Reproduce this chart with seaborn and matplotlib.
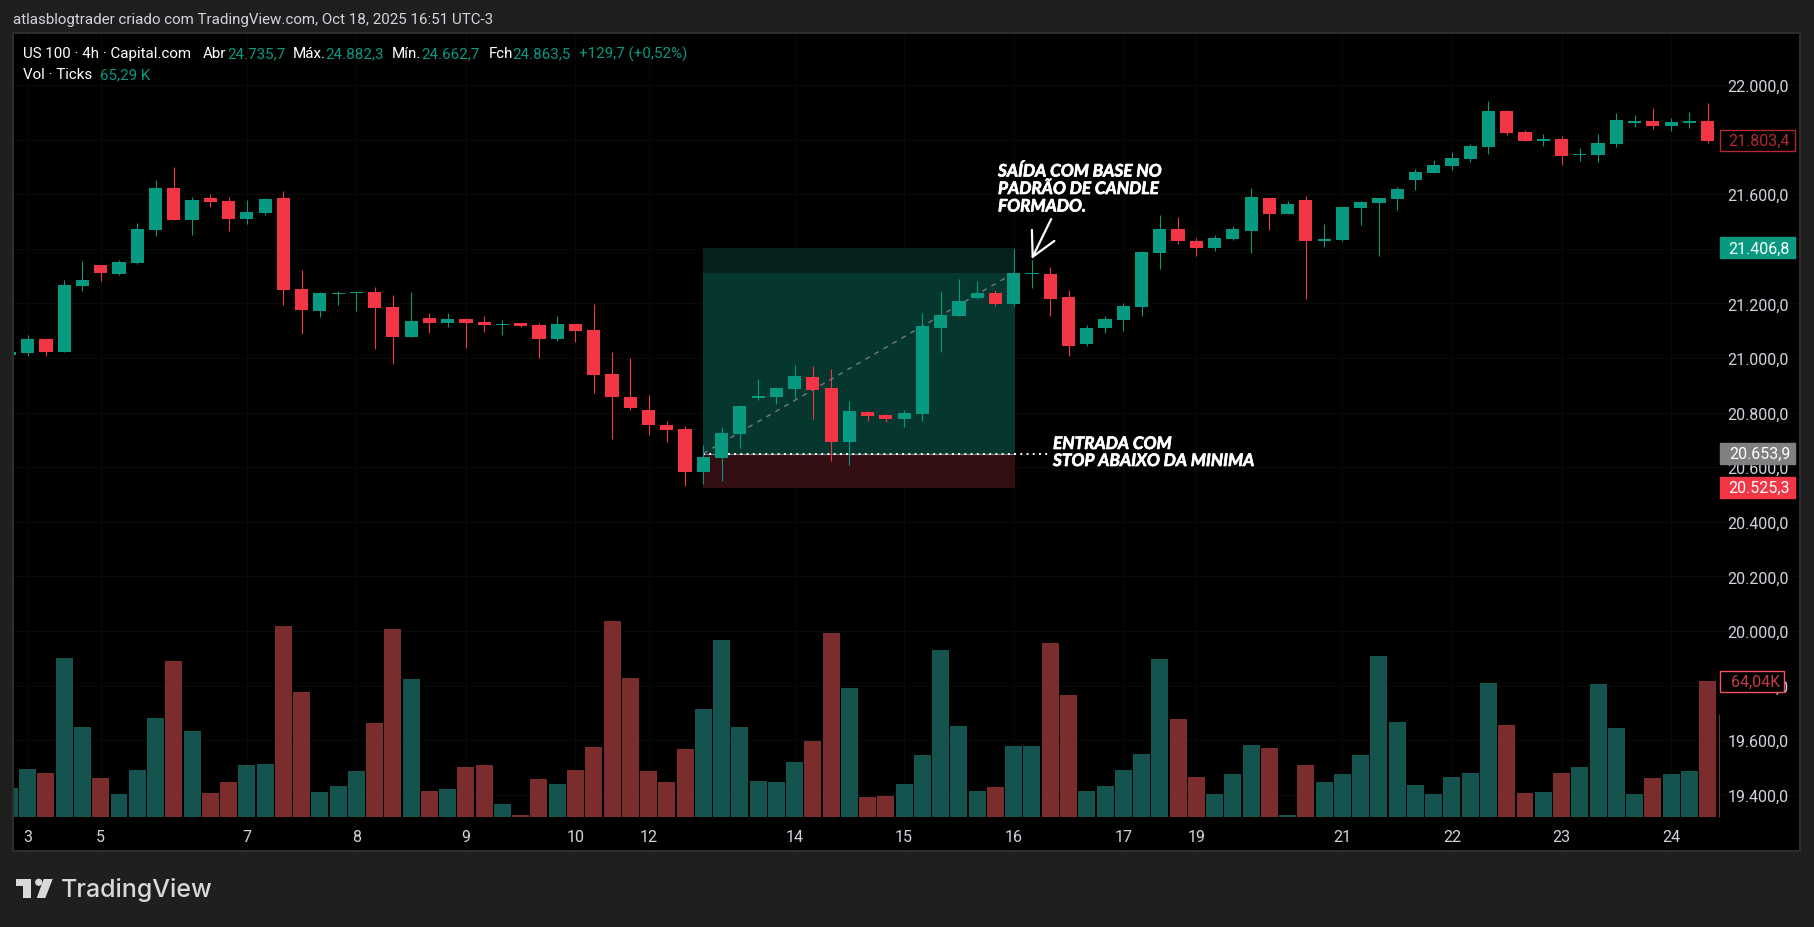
import numpy as np, pandas as pd
import matplotlib
matplotlib.use("Agg")
import matplotlib.pyplot as plt
import matplotlib.patheffects as pe
from matplotlib.patches import Rectangle, Polygon, Circle
from matplotlib.transforms import Affine2D
import seaborn as sns

W, H = 1814, 928

# ---------------------------------------------------------------- candles (US 100, 4h)
opens = [21011, 21018, 21070, 21022, 21263, 21341, 21308, 21348, 21469, 21623, 21505, 21586, 21575, 21509, 21531, 21586,
         21253, 21172, 21234, 21238, 21242, 21187, 21077, 21147, 21128, 21143, 21132, 21121, 21128, 21121, 21070, 21125,
         21103, 20942, 20857, 20809, 20755, 20740, 20582, 20633, 20722, 20853, 20857, 20886, 20930, 20890, 20692, 20802,
         20791, 20777, 20795, 21110, 21154, 21220, 21238, 21198, 21308, 21308, 21224, 21051, 21110, 21139, 21187, 21385,
         21473, 21429, 21403, 21436, 21465, 21586, 21528, 21578, 21429, 21432, 21549, 21568, 21582, 21652, 21678, 21703,
         21729, 21773, 21905, 21828, 21795, 21802, 21744, 21744, 21784, 21861, 21868, 21850, 21861, 21868]
closes = [21022, 21070, 21022, 21267, 21285, 21311, 21352, 21473, 21623, 21505, 21578, 21571, 21509, 21535, 21582, 21249,
          21176, 21238, 21238, 21242, 21183, 21077, 21136, 21128, 21143, 21128, 21121, 21125, 21117, 21070, 21125, 21099,
          20938, 20857, 20817, 20755, 20736, 20582, 20637, 20725, 20824, 20861, 20890, 20934, 20883, 20692, 20806, 20788,
          20777, 20798, 21117, 21157, 21209, 21238, 21198, 21311, 21311, 21216, 21044, 21110, 21143, 21191, 21388, 21473,
          21429, 21403, 21440, 21473, 21590, 21528, 21564, 21429, 21436, 21553, 21571, 21586, 21619, 21681, 21707, 21733,
          21777, 21905, 21824, 21795, 21802, 21740, 21747, 21788, 21872, 21868, 21850, 21864, 21868, 21796]
highs = [21022, 21084, 21070, 21285, 21356, 21341, 21359, 21494, 21652, 21700, 21590, 21601, 21590, 21578, 21586, 21612,
         21322, 21242, 21245, 21242, 21260, 21231, 21242, 21165, 21165, 21147, 21154, 21139, 21128, 21128, 21154, 21125,
         21198, 21022, 21000, 20864, 20770, 20751, 20681, 20747, 20828, 20923, 20890, 20974, 20971, 20960, 20843, 20806,
         20795, 20809, 21165, 21242, 21289, 21282, 21249, 21399, 21359, 21333, 21249, 21121, 21154, 21202, 21392, 21524,
         21516, 21440, 21451, 21484, 21623, 21586, 21575, 21593, 21491, 21553, 21575, 21586, 21626, 21692, 21725, 21755,
         21784, 21941, 21908, 21835, 21821, 21813, 21769, 21821, 21897, 21890, 21916, 21879, 21901, 21934]
lows = [21011, 21007, 21007, 21022, 21246, 21282, 21304, 21345, 21447, 21505, 21451, 21553, 21465, 21491, 21524, 21195,
        21088, 21150, 21195, 21172, 21033, 20978, 21077, 21092, 21114, 21037, 21095, 21084, 21114, 21000, 21063, 21059,
        20871, 20703, 20809, 20718, 20692, 20531, 20538, 20550, 20670, 20846, 20831, 20853, 20777, 20623, 20608, 20770,
        20766, 20748, 20770, 21022, 21154, 21216, 21191, 21191, 21256, 21154, 21007, 21044, 21092, 21099, 21154, 21326,
        21418, 21374, 21392, 21432, 21385, 21469, 21528, 21216, 21407, 21429, 21487, 21374, 21542, 21615, 21678, 21689,
        21718, 21747, 21817, 21795, 21777, 21707, 21722, 21718, 21773, 21846, 21839, 21832, 21843, 21788]
volumes = [13.7, 22.6, 20.7, 74.9, 42.4, 18.4, 10.8, 22.1, 46.6, 73.5, 40.5, 11.3, 16.5, 24.5, 25.0, 90.0,
           58.9, 11.8, 14.6, 21.7, 44.3, 88.5, 65.0, 12.2, 13.2, 23.6, 24.5, 6.1, 0.9, 17.9, 15.5, 22.1,
           33.0, 92.3, 65.5, 21.7, 16.5, 32.0, 50.9, 83.4, 42.4, 17.0, 16.5, 25.9, 35.8, 86.7, 60.8, 9.4,
           9.9, 15.5, 29.2, 78.7, 42.9, 12.2, 14.1, 33.4, 33.4, 82.0, 57.5, 12.2, 14.6, 22.1, 29.7, 74.4,
           46.2, 18.8, 10.8, 20.3, 33.9, 32.5, 0.9, 24.5, 16.5, 20.3, 29.2, 75.8, 44.7, 15.1, 10.8, 18.8,
           20.7, 63.1, 43.3, 11.3, 11.8, 20.7, 23.6, 62.6, 41.9, 10.8, 18.4, 20.3, 21.7, 64.0]

date_pos = [1, 5, 13, 19, 25, 31, 35, 43, 49, 55, 61, 65, 73, 79, 85, 91]
date_labels = ["3", "5", "7", "8", "9", "10", "12", "14", "15", "16", "17", "19", "21", "22", "23", "24"]
price_ticks = [22000, 21800, 21600, 21400, 21200, 21000, 20800, 20600, 20400, 20200, 20000, 19800, 19600, 19400]

# long position tool (levels as they sit on the drawn scale)
entry, target, stop, box_mid = 20650, 21403, 20525.3, 21311
box_x = [38, 55.05]

UP, DOWN = "#089981", "#f23645"
VOL_COL = {"up": "#15534e", "down": "#7b2c2c"}
TXT = "#d1d4dc"
GRID = "#090909"

df = pd.DataFrame({"i": np.arange(len(opens)), "o": opens, "h": highs, "l": lows, "c": closes, "vol": volumes})
df["dir"] = np.where(df.c >= df.o, "up", "down")

# ---------------------------------------------------------------- layout
sns.set_theme(style="dark", rc={"figure.facecolor": "#1f1f1f", "axes.facecolor": "#000000",
                                "axes.edgecolor": "#2e2e2e", "axes.linewidth": 1.4})
plt.rcParams["font.family"] = ["Roboto", "DejaVu Sans"]

PX = Affine2D().scale(1, -1).translate(0, H)   # pixels, origin top-left
L, R, T, B = 13, 1800, 34, 852
xlim = (0.195, 98.06)

fig = plt.figure(figsize=(W / 100, H / 100), dpi=100)
ax = fig.add_axes([L / W, 1 - B / H, (R - L) / W, (B - T) / H])
ax_vol = ax.twinx()
ax_vol.patch.set_visible(False)

# volume on the upper axes so the faint grid stays behind the bars
sns.barplot(data=df, x="i", y="vol", hue="dir", palette=VOL_COL, native_scale=True, dodge=False,
            width=0.93, saturation=1, errorbar=None, legend=False, linewidth=0, edgecolor="none", ax=ax_vol)
ax_vol.vlines(93.6, 0, 48.5, color="#7b2c2c", lw=0.8)
ax_vol.set_xlabel(""); ax_vol.set_ylabel("")
ax_vol.set_ylim(-16.0, 369.2)
ax_vol.yaxis.set_visible(False)
ax_vol.set_xlim(*xlim)

ax.set_xlim(*xlim)
ax.set_xticks(date_pos)
ax.set_xticklabels(date_labels)
ax.tick_params(axis="x", length=0, pad=-15.5, labelsize=11.5, labelcolor=TXT)
ax.set_ylim(19194, 22190.5)
ax.set_yticks(price_ticks)
ax.set_yticklabels([f"{v:,.1f}".replace(",", "#").replace(".", ",").replace("#", ".") for v in price_ticks])
ax.yaxis.tick_right()
ax.tick_params(axis="y", length=0, pad=-8, labelsize=11.5, labelcolor=TXT)
for lb in ax.get_yticklabels():
    lb.set_ha("right")
ax.grid(color=GRID, lw=0.8)
ax.set_axisbelow(True)
for a in (ax, ax_vol):
    for s in a.spines.values():
        s.set_color("#2e2e2e")

# ---------------------------------------------------------------- position box
ax.fill_between(box_x, box_mid, target, color="#06211b", lw=0, zorder=1)
ax.fill_between(box_x, entry, box_mid, color="#05372e", lw=0, zorder=1)
ax.fill_between(box_x, stop, entry, color="#330e12", lw=0, zorder=1)
ax.plot(box_x, [entry, entry], color="#787b86", lw=0.8, zorder=1.5)
ax.plot([38, 56.87], [entry, entry], color="white", lw=1.4, ls=(0, (1, 2.2)), zorder=1.6)
ax.plot([38, 55], [entry, box_mid], color="#787b86", lw=1, ls=(0, (3.5, 4)), zorder=1.6)

# ---------------------------------------------------------------- candles
colors = [UP if d == "up" else DOWN for d in df["dir"]]
ax.vlines(df.i, df.l, df.h, colors=colors, lw=0.8, zorder=3)
ax.bar(df.i, (df.c - df.o).abs(), bottom=df[["o", "c"]].min(axis=1), width=0.72, color=colors, lw=0, zorder=3)

# ---------------------------------------------------------------- annotations
fig.canvas.draw()
note = dict(color="white", fontsize=12.4, fontweight="bold", fontstyle="italic",
            family=["Lato", "Liberation Sans"], va="center", transform=PX, zorder=12,
            path_effects=[pe.withStroke(linewidth=0.5, foreground="white")])
for txt, y in [("SAÍDA COM BASE NO", 172.5), ("PADRÃO DE CANDLE", 190), ("FORMADO.", 207.5)]:
    fig.text(998, y, txt, **note)
for txt, y in [("ENTRADA COM", 445), ("STOP ABAIXO DA MINIMA", 462)]:
    fig.text(1053, y, txt, **note)
ax.annotate("", xy=(55.98, 21363), xytext=(57.05, 21509),
            arrowprops=dict(arrowstyle="->,head_length=0.95,head_width=0.5", color="white", lw=1.6,
                            shrinkA=0, shrinkB=0, mutation_scale=18), zorder=6)

# ---------------------------------------------------------------- price tags
def tag(value, label, fc, ec, tc, ax_obj=ax, x1=1795):
    y = H - ax_obj.transData.transform((0, value))[1]
    fig.add_artist(Rectangle((1720, y - 10.5), x1 - 1720, 21, transform=PX, fc=fc, ec=ec, lw=1, zorder=10))
    fig.text(1790 if x1 == 1795 else 1780, y, label, color=tc, fontsize=11.5, ha="right", va="center",
             transform=PX, zorder=11)

tag(21796, "21.803,4", "#000000", "#b22833", "#b22833")
tag(target, "21.406,8", UP, UP, "white")
tag(entry, "20.653,9", "#808080", "#808080", "white")
tag(stop, "20.525,3", DOWN, DOWN, "white")
tag(64.04, "64,04K", "#000000", "#f7525f", "#c43c46", ax_obj=ax_vol, x1=1784)

# ---------------------------------------------------------------- header, legend, logo
def label(x, y, s, color=TXT, size=10.9, **kw):
    fig.text(x, y, s, color=color, fontsize=size, va="center", transform=PX, zorder=12, **kw)

label(13, 20, "atlasblogtrader criado com TradingView.com, Oct 18, 2025 16:51 UTC-3")
for x, s, c in [(23, "US 100 · 4h · Capital.com", "white"), (203, "Abr", "white"), (227, "24.735,7", UP),
                (293, "Máx.", "white"), (325.5, "24.882,3", UP), (392, "Mín.", "white"), (421.5, "24.662,7", UP),
                (488.5, "Fch", "white"), (512.4, "24.863,5", UP), (579.4, "+129,7 (+0,52%)", UP)]:
    label(x, 54, s, color=c)
label(23, 75, "Vol · Ticks", color="white")
label(100, 75, "65,29 K", color=UP)

LOGO = "#d9d9d9"
fig.add_artist(Polygon([(15.7, 880), (30.7, 880), (30.7, 899), (23.3, 899), (23.3, 887.3), (15.7, 887.3)],
                       transform=PX, fc=LOGO, lw=0))
fig.add_artist(Circle((38.7, 883.3), 3.6, transform=PX, fc=LOGO, lw=0))
fig.add_artist(Polygon([(43.7, 880), (52.7, 880), (45.3, 899), (36.7, 899)], transform=PX, fc=LOGO, lw=0))
label(60.5, 890, "TradingView", color=LOGO, size=18, family="Inter", fontweight="medium")

fig.savefig("out.png", dpi=100, facecolor=fig.get_facecolor())
